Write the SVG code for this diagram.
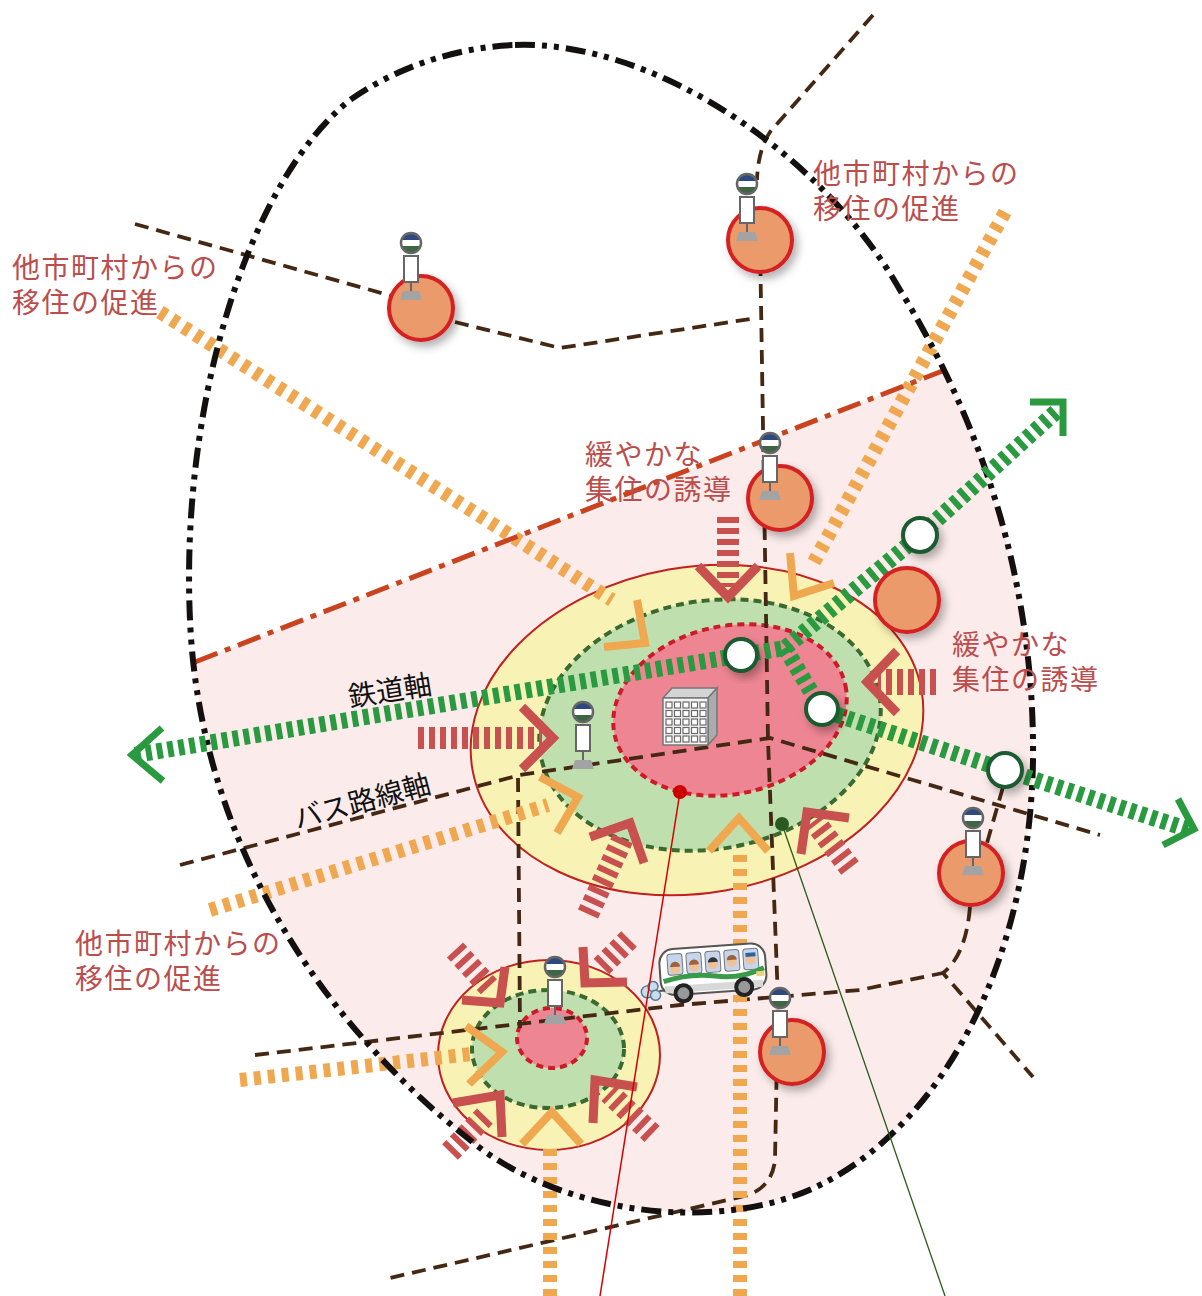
<svg xmlns="http://www.w3.org/2000/svg" xmlns:xlink="http://www.w3.org/1999/xlink" width="1202" height="1296" viewBox="0 0 1202 1296">
  <defs>
    <style>
      .road{fill:none;stroke:#452814;stroke-width:3.8;stroke-dasharray:14 8}
      .flow{fill:none;stroke:#f0a850;stroke-width:14;stroke-dasharray:7 7}
      .flowhead{fill:none;stroke:#f0a850;stroke-width:8;stroke-linejoin:miter;stroke-linecap:butt}
      .pull{fill:none;stroke:#c8504f;stroke-width:22;stroke-dasharray:6 5}
      .pullhead{fill:none;stroke:#c8504f;stroke-width:9;stroke-linejoin:miter}
      .rail{fill:none;stroke:#2a9a40;stroke-width:16;stroke-dasharray:6 5}
      .railhead{fill:none;stroke:#2a9a40;stroke-width:7;stroke-linejoin:miter}
      .stn{fill:#eb9a6c;stroke:#d42020;stroke-width:4;filter:url(#sh)}
      .rstn{fill:#fff;stroke:#1e5a30;stroke-width:4;filter:url(#sh)}
      .lbl{font-family:"Liberation Sans","Noto Sans CJK JP",sans-serif;font-size:28px;fill:#bb4d4d;letter-spacing:1.5px}
      .axis{font-family:"Liberation Sans","Noto Sans CJK JP",sans-serif;font-size:28px;fill:#111}
    </style>
    <filter id="sh" x="-40%" y="-40%" width="180%" height="180%">
      <feDropShadow dx="4" dy="5" stdDeviation="4" flood-color="#000" flood-opacity="0.3"/>
    </filter>
    <path id="egg" d="M515,45 C650,40 820,150 900,290 C980,420 1035,580 1033,760 C1030,950 950,1120 820,1185 C720,1235 560,1215 470,1140 C330,1030 200,850 190,620 C180,400 250,180 350,100 C400,65 460,47 515,45 Z"/>
    <clipPath id="eggclip"><use xlink:href="#egg"/></clipPath>
    <clipPath id="hc"><circle r="10"/></clipPath>
    <!-- bus stop pole, head centred on origin -->
    <g id="busstop">
      <rect x="-7" y="13" width="14" height="26" fill="#fff" stroke="#666" stroke-width="2"/>
      <line x1="0" y1="39" x2="0" y2="48" stroke="#666" stroke-width="2"/>
      <polygon points="-8,48 8,48 11,57 -11,57" fill="#a3a3a3"/>
      <g clip-path="url(#hc)">
        <rect x="-10" y="-10" width="20" height="7" fill="#2c4a80"/>
        <rect x="-10" y="-3" width="20" height="6" fill="#fff"/>
        <rect x="-10" y="3" width="20" height="7" fill="#3d6644"/>
      </g>
      <circle r="10" fill="none" stroke="#666" stroke-width="2.5"/>
    </g>
  </defs>

  <rect width="1202" height="1296" fill="#fff"/>

  <!-- urban area below the boundary line -->
  <polygon points="0,738 1202,270 1202,1296 0,1296" fill="#fbeceb" clip-path="url(#eggclip)"/>

  <!-- central hub rings -->
  <g id="hub-main">
    <ellipse cx="697" cy="730" rx="228" ry="163" transform="rotate(-10 697 730)" fill="#f8f2b4" stroke="#c0201e" stroke-width="2"/>
    <ellipse cx="710" cy="725" rx="172" ry="124" transform="rotate(-10 710 725)" fill="#bfe0ae" stroke="#3a6a30" stroke-width="4" stroke-dasharray="8 5"/>
    <ellipse cx="730" cy="710" rx="118" ry="84" transform="rotate(-12 730 710)" fill="#ee8592" stroke="#cc1a28" stroke-width="4" stroke-dasharray="7 5"/>
  </g>
  <g id="hub-sub">
    <ellipse cx="549" cy="1055" rx="111" ry="95" fill="#f8f2b4" stroke="#c0201e" stroke-width="2"/>
    <ellipse cx="548" cy="1049" rx="76" ry="59" fill="#bfe0ae" stroke="#3a6a30" stroke-width="4" stroke-dasharray="8 5"/>
    <ellipse cx="552" cy="1038" rx="35" ry="30" fill="#ee8592" stroke="#cc1a28" stroke-width="4" stroke-dasharray="7 5"/>
  </g>

  <g id="connectors">
    <!-- bus roads -->
    <g id="roads">
      <path class="road" d="M135,224 L392,296"/>
      <path class="road" d="M455,322 L560,348 L757,318"/>
      <path class="road" d="M873,15 L770,132 Q758,150 757,180"/>
      <path class="road" d="M760,240 L768,740 L778,1000 L775,1160 Q772,1188 745,1196 L390,1278"/>
      <path class="road" d="M180,865 L520,775 L770,738 L1100,835"/>
      <path class="road" d="M518,778 L520,1028"/>
      <path class="road" d="M255,1055 L680,1005 L860,990 L943,973"/>
      <path class="road" d="M1003,787 L987,843"/>
      <path class="road" d="M970,907 Q966,955 943,973 L1033,1077"/>
    </g>

    <!-- inflow from other municipalities -->
    <g id="inflow">
      <path class="flow" d="M160,312 L612,600"/>
      <polyline class="flowhead" points="637,600 645,643 604,647"/>
      <path class="flow" d="M1005,212 L814,562"/>
      <polyline class="flowhead" points="790,553 794,596 834,583"/>
      <path class="flow" d="M210,910 L548,805"/>
      <polyline class="flowhead" points="540,777 578,797 557,833"/>
      <path class="flow" d="M740,1296 L740,852"/>
      <polyline class="flowhead" points="709,851 739,818 768,851"/>
      <path class="flow" d="M550,1296 L550,1148"/>
      <polyline class="flowhead" points="522,1144 552,1112 581,1144"/>
      <path class="flow" d="M240,1080 L472,1054"/>
      <polyline class="flowhead" points="466,1026 502,1052 469,1084"/>
    </g>

    <!-- gentle concentration arrows -->
    <g id="concentration">
      <path class="pull" d="M728,517 L728,587"/>
      <polyline class="pullhead" points="698,566 728,597 758,566"/>
      <path class="pull" d="M936,682 L878,682" style="stroke-width:26"/>
      <polyline class="pullhead" points="897,651 867,682 897,713"/>
      <path class="pull" d="M418,738 L542,738"/>
      <polyline class="pullhead" points="522,707 553,738 522,769"/>
      <path class="pull" d="M588,914 L623,838"/>
      <polyline class="pullhead" points="590,837 630,823 644,863"/>
      <path class="pull" d="M850,868 L814,821"/>
      <polyline class="pullhead" points="801,854 807,812 849,818"/>
      <path class="pull" d="M455,950 L490,988"/>
      <polyline class="pullhead" points="462,1000 500,1003 505,967"/>
      <path class="pull" d="M629,939 L598,970"/>
      <polyline class="pullhead" points="583,947 585,983 627,982"/>
      <path class="pull" d="M450,1152 L488,1113"/>
      <polyline class="pullhead" points="453,1103 500,1095 502,1137"/>
      <path class="pull" d="M652,1134 L609,1093"/>
      <polyline class="pullhead" points="637,1087 595,1080 593,1123"/>
    </g>

    <!-- district boundary and city boundary -->
    <path d="M195,662 L945,370" fill="none" stroke="#c9431f" stroke-width="5" stroke-dasharray="24 8 6 8"/>
    <use xlink:href="#egg" fill="none" stroke="#141010" stroke-width="6" stroke-dasharray="20 7 5 7 5 7"/>

    <!-- railway axis -->
    <g id="railway">
      <polyline class="rail" points="135,755 785,648 920,535 1058,410"/>
      <polyline class="rail" points="785,648 822,710 1005,770 1190,830"/>
      <polyline class="railhead" points="162,728 132,755 163,781"/>
      <polyline class="railhead" points="1030,402 1063,402 1063,436"/>
      <polyline class="railhead" points="1178,799 1194,829 1163,845"/>
    </g>
  </g>

  <!-- bus-stop hubs -->
  <g id="stop-nw"><circle class="stn" cx="421" cy="308" r="32"/><use xlink:href="#busstop" x="411" y="243"/></g>
  <g id="stop-n"><circle class="stn" cx="760" cy="240" r="32"/><use xlink:href="#busstop" x="747" y="184"/></g>
  <g id="stop-c"><circle class="stn" cx="780" cy="498" r="32"/><use xlink:href="#busstop" x="770" y="443"/></g>
  <g id="stop-e"><circle class="stn" cx="907" cy="600" r="32"/></g>
  <g id="stop-se"><circle class="stn" cx="971" cy="873" r="32"/><use xlink:href="#busstop" x="973" y="818"/></g>
  <g id="stop-s"><circle class="stn" cx="792" cy="1052" r="32"/><use xlink:href="#busstop" x="780" y="998"/></g>
  <g id="stop-core"><use xlink:href="#busstop" x="583" y="712"/></g>
  <g id="stop-sub"><use xlink:href="#busstop" x="555" y="967"/></g>

  <!-- railway stations -->
  <g id="rail-1"><circle class="rstn" cx="741" cy="655" r="16"/></g>
  <g id="rail-2"><circle class="rstn" cx="920" cy="535" r="17"/></g>
  <g id="rail-3"><circle class="rstn" cx="822" cy="709" r="16"/></g>
  <g id="rail-4"><circle class="rstn" cx="1005" cy="770" r="17"/></g>

  <!-- city hall building -->
  <g id="building" transform="translate(663,688)">
    <polygon points="0,10 9,0 54,0 45,10" fill="#d4d4d4" stroke="#777" stroke-width="1.5"/>
    <polygon points="45,10 54,0 54,47 45,57" fill="#ababab" stroke="#777" stroke-width="1.5"/>
    <rect x="0" y="10" width="45" height="47" fill="#f4f4f4" stroke="#777" stroke-width="1.5"/>
    <g fill="#fff" stroke="#6a6a6a" stroke-width="1.2">
      <rect x="3" y="14" width="6" height="6"/><rect x="11.5" y="14" width="6" height="6"/><rect x="20" y="14" width="6" height="6"/><rect x="28.5" y="14" width="6" height="6"/><rect x="37" y="14" width="6" height="6"/>
      <rect x="3" y="22.5" width="6" height="6"/><rect x="11.5" y="22.5" width="6" height="6"/><rect x="20" y="22.5" width="6" height="6"/><rect x="28.5" y="22.5" width="6" height="6"/><rect x="37" y="22.5" width="6" height="6"/>
      <rect x="3" y="31" width="6" height="6"/><rect x="11.5" y="31" width="6" height="6"/><rect x="20" y="31" width="6" height="6"/><rect x="28.5" y="31" width="6" height="6"/><rect x="37" y="31" width="6" height="6"/>
      <rect x="3" y="39.5" width="6" height="6"/><rect x="11.5" y="39.5" width="6" height="6"/><rect x="20" y="39.5" width="6" height="6"/><rect x="28.5" y="39.5" width="6" height="6"/><rect x="37" y="39.5" width="6" height="6"/>
      <rect x="3" y="48" width="6" height="6"/><rect x="11.5" y="48" width="6" height="6"/><rect x="20" y="48" width="6" height="6"/><rect x="28.5" y="48" width="6" height="6"/><rect x="37" y="48" width="6" height="6"/>
    </g>
  </g>

  <!-- community bus -->
  <g id="bus" transform="translate(658,944) rotate(-4)">
    <g fill="#c6deee" stroke="#5a7a90" stroke-width="1.5">
      <circle cx="-14" cy="47" r="6"/><circle cx="-8" cy="42" r="5"/><circle cx="-6" cy="51" r="5"/>
    </g>
    <line x1="-2" y1="47" x2="4" y2="47" stroke="#555" stroke-width="2"/>
    <rect x="0" y="6" width="106" height="46" rx="14" fill="#fff" stroke="#555" stroke-width="2"/>
    <rect x="4" y="43" width="98" height="7" fill="#d8d8d8"/>
    <g fill="#c5d5ee" stroke="#777" stroke-width="1">
      <rect x="8" y="11" width="15" height="21" rx="3"/><rect x="27" y="11" width="15" height="21" rx="3"/><rect x="46" y="11" width="15" height="21" rx="3"/><rect x="65" y="11" width="15" height="21" rx="3"/><rect x="84" y="11" width="15" height="21" rx="3"/>
    </g>
    <g fill="#f1c196">
      <circle cx="15.5" cy="26" r="5"/><circle cx="34.5" cy="25" r="5"/><circle cx="53.5" cy="24" r="5"/><circle cx="72.5" cy="23" r="5"/><circle cx="91.5" cy="22" r="5"/>
    </g>
    <g fill="#a0603a">
      <path d="M10.5,24 a5,5 0 0 1 10,0 z"/><path d="M29.5,23 a5,5 0 0 1 10,0 z"/><path d="M48.5,22 a5,5 0 0 1 10,0 z" fill="#333"/><path d="M67.5,21 a5,5 0 0 1 10,0 z"/>
    </g>
    <path d="M86.5,19 h10 v-4 h-10 z" fill="#3060a0"/>
    <path d="M3,38 Q30,31 55,36 T104,31" fill="none" stroke="#3a9a4a" stroke-width="5"/>
    <rect x="96" y="34" width="8" height="5" fill="#e8d47a"/>
    <circle cx="22" cy="51" r="8" fill="#999" stroke="#222" stroke-width="4"/>
    <circle cx="83" cy="49" r="8" fill="#999" stroke="#222" stroke-width="4"/>
  </g>

  <!-- labels -->
  <text class="lbl"><tspan x="12" y="278">他市町村からの</tspan><tspan x="12" y="313">移住の促進</tspan></text>
  <text class="lbl"><tspan x="813" y="184">他市町村からの</tspan><tspan x="813" y="219">移住の促進</tspan></text>
  <text class="lbl"><tspan x="75" y="954">他市町村からの</tspan><tspan x="75" y="989">移住の促進</tspan></text>
  <text class="lbl"><tspan x="585" y="465">緩やかな</tspan><tspan x="585" y="500">集住の誘導</tspan></text>
  <text class="lbl"><tspan x="952" y="655">緩やかな</tspan><tspan x="952" y="690">集住の誘導</tspan></text>
  <text class="axis" x="350" y="707" transform="rotate(-9 350 707)">鉄道軸</text>
  <text class="axis" x="297" y="829" transform="rotate(-15 297 829)">バス路線軸</text>

  <!-- leader lines -->
  <g id="leaders">
    <line x1="680" y1="792" x2="600" y2="1296" stroke="#d40000" stroke-width="1.5"/>
    <circle cx="680" cy="792" r="7" fill="#cc0000"/>
    <line x1="782" y1="824" x2="945" y2="1296" stroke="#2a5a1a" stroke-width="1.3"/>
    <circle cx="782" cy="824" r="7" fill="#2a5a20"/>
  </g>
</svg>
